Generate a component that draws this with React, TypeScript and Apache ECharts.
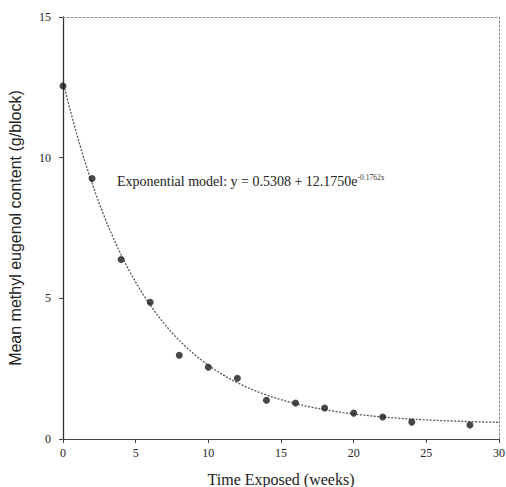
import React, { useEffect, useRef } from "react";
import * as echarts from "echarts";

const weeks = [0, 2, 4, 6, 8, 10, 12, 14, 16, 18, 20, 22, 24, 28];
const meanContent = [12.55, 9.26, 6.38, 4.86, 2.98, 2.55, 2.16, 1.38, 1.28, 1.1, 0.92, 0.78, 0.6, 0.5];
const xTicks = [0, 5, 10, 15, 20, 25, 30];
const yTicks = [0, 5, 10, 15];
// Fitted model shown on the chart: y = A + B * e^(-K x)
const MODEL_A = 0.5308;
const MODEL_B = 12.175;
const MODEL_K = 0.1762;
const modelLabel = "Exponential model: y = 0.5308 + 12.1750e";
const modelExp = "-0.1762x";

const FONT = "'Liberation Serif', 'Times New Roman', serif";
const SANS = "'Liberation Sans', Arial, sans-serif";

export default function App() {
  const ref = useRef<HTMLDivElement>(null);
  useEffect(() => {
    if (!ref.current) return;
    document.body.style.margin = "0";
    document.body.style.overflow = "hidden";
    const chart = echarts.init(ref.current, null, { renderer: "svg" });
    const curve: number[][] = [];
    for (let i = 0; i <= 120; i++) {
      const x = (i * (xTicks[xTicks.length - 1] - xTicks[0])) / 120;
      curve.push([x, MODEL_A + MODEL_B * Math.exp(-MODEL_K * x)]);
    }
    const axisLabel = { color: "#222", fontFamily: FONT, fontSize: 12 };
    chart.setOption({
      animation: false,
      backgroundColor: "#fff",
      grid: { left: 63, right: 7, top: 17, bottom: 48, containLabel: false, outerBoundsMode: "none" },
      xAxis: [
        {
          type: "value",
          min: xTicks[0],
          max: xTicks[xTicks.length - 1],
          interval: 5,
          position: "bottom",
          name: "Time Exposed (weeks)",
          nameLocation: "middle",
          nameGap: 32,
          nameTextStyle: { color: "#222", fontFamily: FONT, fontSize: 16 },
          axisLine: { show: true, onZero: false, lineStyle: { color: "#444", width: 1 } },
          axisTick: { show: true, inside: false, length: 4, lineStyle: { color: "#444" } },
          axisLabel: { ...axisLabel, margin: 8 },
          splitLine: { show: false },
        },
        {
          type: "value",
          min: xTicks[0],
          max: xTicks[xTicks.length - 1],
          interval: 5,
          position: "top",
          axisLine: { show: true, onZero: false, lineStyle: { color: "#888", width: 1, type: [2, 2] } },
          axisTick: { show: false },
          axisLabel: { show: false },
          splitLine: { show: false },
        },
      ],
      yAxis: [
        {
          type: "value",
          min: yTicks[0],
          max: yTicks[yTicks.length - 1],
          interval: 5,
          position: "left",
          name: "Mean methyl eugenol content (g/block)",
          nameLocation: "middle",
          nameGap: 40,
          nameTextStyle: { color: "#222", fontFamily: SANS, fontSize: 16 },
          axisLine: { show: true, onZero: false, lineStyle: { color: "#333", width: 1.3 } },
          axisTick: { show: true, inside: false, length: 4, lineStyle: { color: "#444" } },
          axisLabel: { ...axisLabel, margin: 12 },
          splitLine: { show: false },
        },
        {
          type: "value",
          min: yTicks[0],
          max: yTicks[yTicks.length - 1],
          interval: 5,
          position: "right",
          axisLine: { show: true, onZero: false, lineStyle: { color: "#888", width: 1, type: [2, 2] } },
          axisTick: { show: false },
          axisLabel: { show: false },
          splitLine: { show: false },
        },
      ],
      series: [
        {
          type: "line",
          data: curve,
          showSymbol: false,
          symbol: "none",
          smooth: false,
          lineStyle: { color: "#555", width: 1.3, type: [2, 1.5] },
          z: 2,
        },
        {
          type: "scatter",
          data: weeks.map((w, i) => [w, meanContent[i]]),
          symbol: "circle",
          symbolSize: 7,
          itemStyle: { color: "#1a1a1a" },
          z: 3,
        },
      ],
      graphic: [
        {
          type: "text",
          left: 117,
          top: 173,
          style: {
            text: `{a|${modelLabel}}{s|${modelExp}}`,
            rich: {
              a: { fontFamily: FONT, fontSize: 14, fill: "#222", lineHeight: 16 },
              s: { fontFamily: FONT, fontSize: 7.5, fill: "#333", verticalAlign: "top", lineHeight: 16 },
            },
          },
        },
      ],
    });
    return () => chart.dispose();
  }, []);
  return <div ref={ref} style={{ width: 506, height: 487 }} />;
}
